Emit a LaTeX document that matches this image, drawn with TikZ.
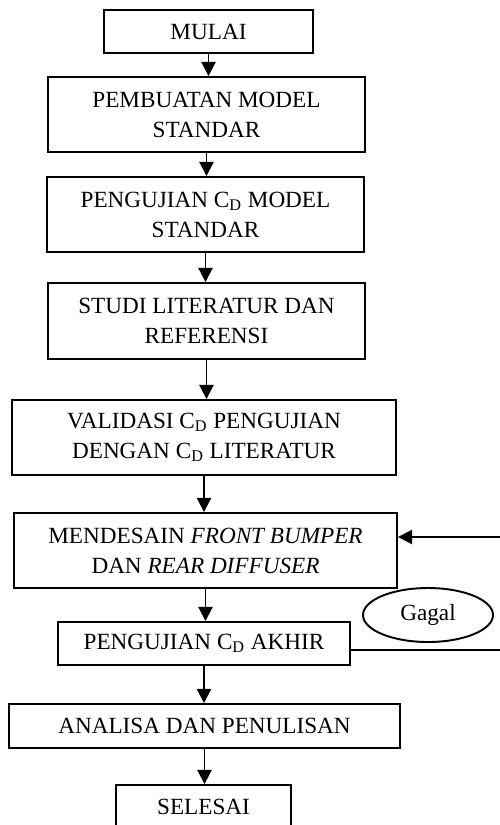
\documentclass[tikz,border=0pt]{standalone}
\usepackage{fontspec}
\setmainfont{Liberation Serif}
\usetikzlibrary{arrows.meta,shapes.geometric}
\tikzset{
  flowbox/.style={draw, line width=1.1pt, align=center, inner sep=0pt,
    font=\fontsize{13.2}{17}\selectfont},
  flowline/.style={line width=1.1pt, -{Triangle[width=8pt,length=8pt]}}
}
\begin{document}
\begin{tikzpicture}[x=0.02cm, y=-0.02cm]
      \clip (0,0) rectangle (500,825);
      \node[flowbox, minimum width=209*0.02cm, minimum height=43*0.02cm] (mulai) at (208.5,31.5) {MULAI};
      \node[flowbox, minimum width=317*0.02cm, minimum height=75*0.02cm] (buat) at (206.5,114.5) {PEMBUATAN MODEL\\STANDAR};
      \node[flowbox, minimum width=317*0.02cm, minimum height=75*0.02cm] (uji) at (205.5,214.5) {PENGUJIAN C\textsubscript{D} MODEL\\STANDAR};
      \node[flowbox, minimum width=317*0.02cm, minimum height=76*0.02cm] (studi) at (206.5,321) {STUDI LITERATUR DAN\\REFERENSI};
      \node[flowbox, minimum width=384*0.02cm, minimum height=75*0.02cm] (valid) at (204,437.5) {VALIDASI C\textsubscript{D} PENGUJIAN\\DENGAN C\textsubscript{D} LITERATUR};
      \node[flowbox, minimum width=383*0.02cm, minimum height=75*0.02cm] (desain) at (205.5,550.5) {MENDESAIN \textit{FRONT BUMPER}\\DAN \textit{REAR DIFFUSER}};
      \node[flowbox, minimum width=292*0.02cm, minimum height=43*0.02cm] (akhir) at (204,643.5) {PENGUJIAN C\textsubscript{D} AKHIR};
      \node[flowbox, minimum width=391*0.02cm, minimum height=44*0.02cm] (analisa) at (204.5,726) {ANALISA DAN PENULISAN};
      \node[flowbox, minimum width=175*0.02cm, minimum height=43*0.02cm] (selesai) at (203.5,806.5) {SELESAI};
      \node[flowbox, ellipse, minimum width=130*0.02cm, minimum height=54*0.02cm] (gagal) at (428,615) {Gagal};
      \coordinate (balik) at (500,537);
      \coordinate (keluar) at (500,650);
      \begin{scope}[flowline]
        \draw (mulai.south) -- (mulai.south |- buat.north);
        \draw (buat.south) -- (buat.south |- uji.north);
        \draw (uji.south) -- (uji.south |- studi.north);
        \draw (studi.south) -- (studi.south |- valid.north);
        \draw (valid.south) -- (valid.south |- desain.north);
        \draw (desain.south) -- (desain.south |- akhir.north);
        \draw (akhir.south) -- (akhir.south |- analisa.north);
        \draw (analisa.south) -- (analisa.south |- selesai.north);
        \draw (balik) -- (desain.east |- balik);
      \end{scope}
      \draw[line width=1.1pt] (akhir.east |- keluar) -- (keluar);
    \end{tikzpicture}
\end{document}
